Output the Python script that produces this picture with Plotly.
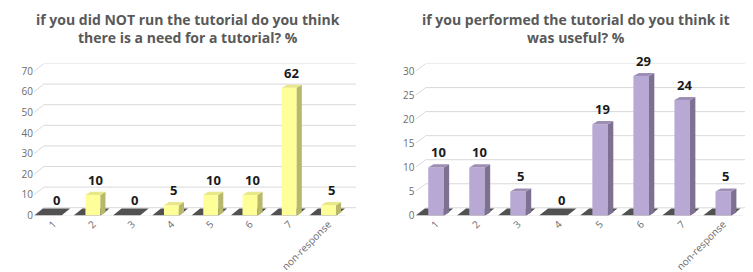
import plotly.graph_objects as go

categories = ["1", "2", "3", "4", "5", "6", "7", "non-response"]
need_values = [0, 10, 0, 5, 10, 10, 62, 5]
useful_values = [10, 10, 5, 0, 19, 29, 24, 5]
need_ticks = [0, 10, 20, 30, 40, 50, 60, 70]
useful_ticks = [0, 5, 10, 15, 20, 25, 30]
title_left = "if you did NOT run the tutorial do you think<br>there is a need for a tutorial? %"
title_right = "if you performed the tutorial do you think it<br>was useful? %"

W, H = 753, 272
TOP_PX, ZERO_PX = 57, 213

panels = [
    dict(vals=need_values, ticks=need_ticks, xd=[26 / W, 348 / W], depth=3.8, tc=180,
         front="#FFFF99", side="#B8B86A", top="#E8E88A", xa="x", ya="y", title=title_left),
    dict(vals=useful_values, ticks=useful_ticks, xd=[407.5 / W, 744 / W], depth=1.6, tc=568,
         front="#B8A9D4", side="#7E7090", top="#9E8EB5", xa="x2", ya="y2", title=title_right),
]

fig = go.Figure()
shapes = []
annotations = []
BW = 0.38
DX = 0.13
XR = [-0.5, 7.7]
xs = list(range(len(categories)))

for p in panels:
    vals, ticks, depth = p["vals"], p["ticks"], p["depth"]
    xa, ya = p["xa"], p["ya"]
    dy = depth * 0.4
    # gridlines (back wall + side wall slant)
    for t in ticks:
        shapes.append(dict(type="path", xref=xa, yref=ya, layer="below",
                           path=f"M {XR[0]},{t} L {XR[0] + 0.25},{t + depth} L {XR[1]},{t + depth}",
                           line=dict(color="#D9D9D9", width=1)))
    # floor front edge
    shapes.append(dict(type="line", xref=xa, yref=ya, layer="below",
                       x0=XR[0], x1=XR[1] - 0.25, y0=0, y1=0,
                       line=dict(color="#E0E0E0", width=1)))
    # floor shadows
    for i, v in zip(xs, vals):
        shapes.append(dict(type="path", xref=xa, yref=ya, layer="below",
                           path=(f"M {i - 0.49},0 L {i + 0.2},0 L {i + 0.42},{depth * 0.9} "
                                 f"L {i - 0.27},{depth * 0.9} Z"),
                           fillcolor="#333333", opacity=0.85, line=dict(width=0)))
    # front faces
    fig.add_trace(go.Bar(x=xs, y=vals, width=BW, marker=dict(color=p["front"], line=dict(width=0)),
                         xaxis=xa, yaxis=ya, hoverinfo="skip", showlegend=False))
    # side and top faces
    for i, v in zip(xs, vals):
        if v <= 0:
            continue
        r = i + BW / 2
        l = i - BW / 2
        shapes.append(dict(type="path", xref=xa, yref=ya, layer="above",
                           path=f"M {r},0 L {r + DX},{dy} L {r + DX},{v + dy} L {r},{v} Z",
                           fillcolor=p["side"], line=dict(width=0)))
        shapes.append(dict(type="path", xref=xa, yref=ya, layer="above",
                           path=f"M {l},{v} L {r},{v} L {r + DX},{v + dy} L {l + DX},{v + dy} Z",
                           fillcolor=p["top"], line=dict(width=0)))
    for i, v in zip(xs, vals):
        annotations.append(dict(x=i + DX / 2, y=v + dy, xref=xa, yref=ya, text=f"<b>{v}</b>",
                                showarrow=False, yanchor="bottom", xanchor="center", yshift=1,
                                font=dict(family="Open Sans", size=13, color="#1A1A1A")))
    annotations.append(dict(x=p["tc"] / W, y=1, xref="paper", yref="paper",
                            xanchor="center", yanchor="top", text=f"<b>{p['title']}</b>",
                            showarrow=False, align="center",
                            font=dict(family="Open Sans", size=14, color="#595959")))

common_x = dict(range=XR, tickmode="array", tickvals=xs, ticktext=categories, tickangle=-45,
                showgrid=False, zeroline=False, showline=False, ticks="",
                tickfont=dict(family="Open Sans", size=10, color="#6B6B6B"))
common_y = dict(showgrid=False, zeroline=False, showline=False, ticks="",
                tickfont=dict(family="Open Sans", size=10, color="#6B6B6B"))

ydom = [1 - ZERO_PX / H, 1 - TOP_PX / H]
fig.update_layout(
    width=W, height=H, margin=dict(l=0, r=0, t=0, b=0),
    paper_bgcolor="white", plot_bgcolor="white",
    barmode="overlay", shapes=shapes, annotations=annotations,
    xaxis=dict(domain=panels[0]["xd"], anchor="y", **common_x),
    yaxis=dict(domain=ydom, anchor="x", range=[0, need_ticks[-1] + panels[0]["depth"]],
               tickvals=need_ticks, **common_y),
    xaxis2=dict(domain=panels[1]["xd"], anchor="y2", **common_x),
    yaxis2=dict(domain=ydom, anchor="x2", range=[0, useful_ticks[-1] + panels[1]["depth"]],
                tickvals=useful_ticks, **common_y),
)

fig.write_html("out.html")
